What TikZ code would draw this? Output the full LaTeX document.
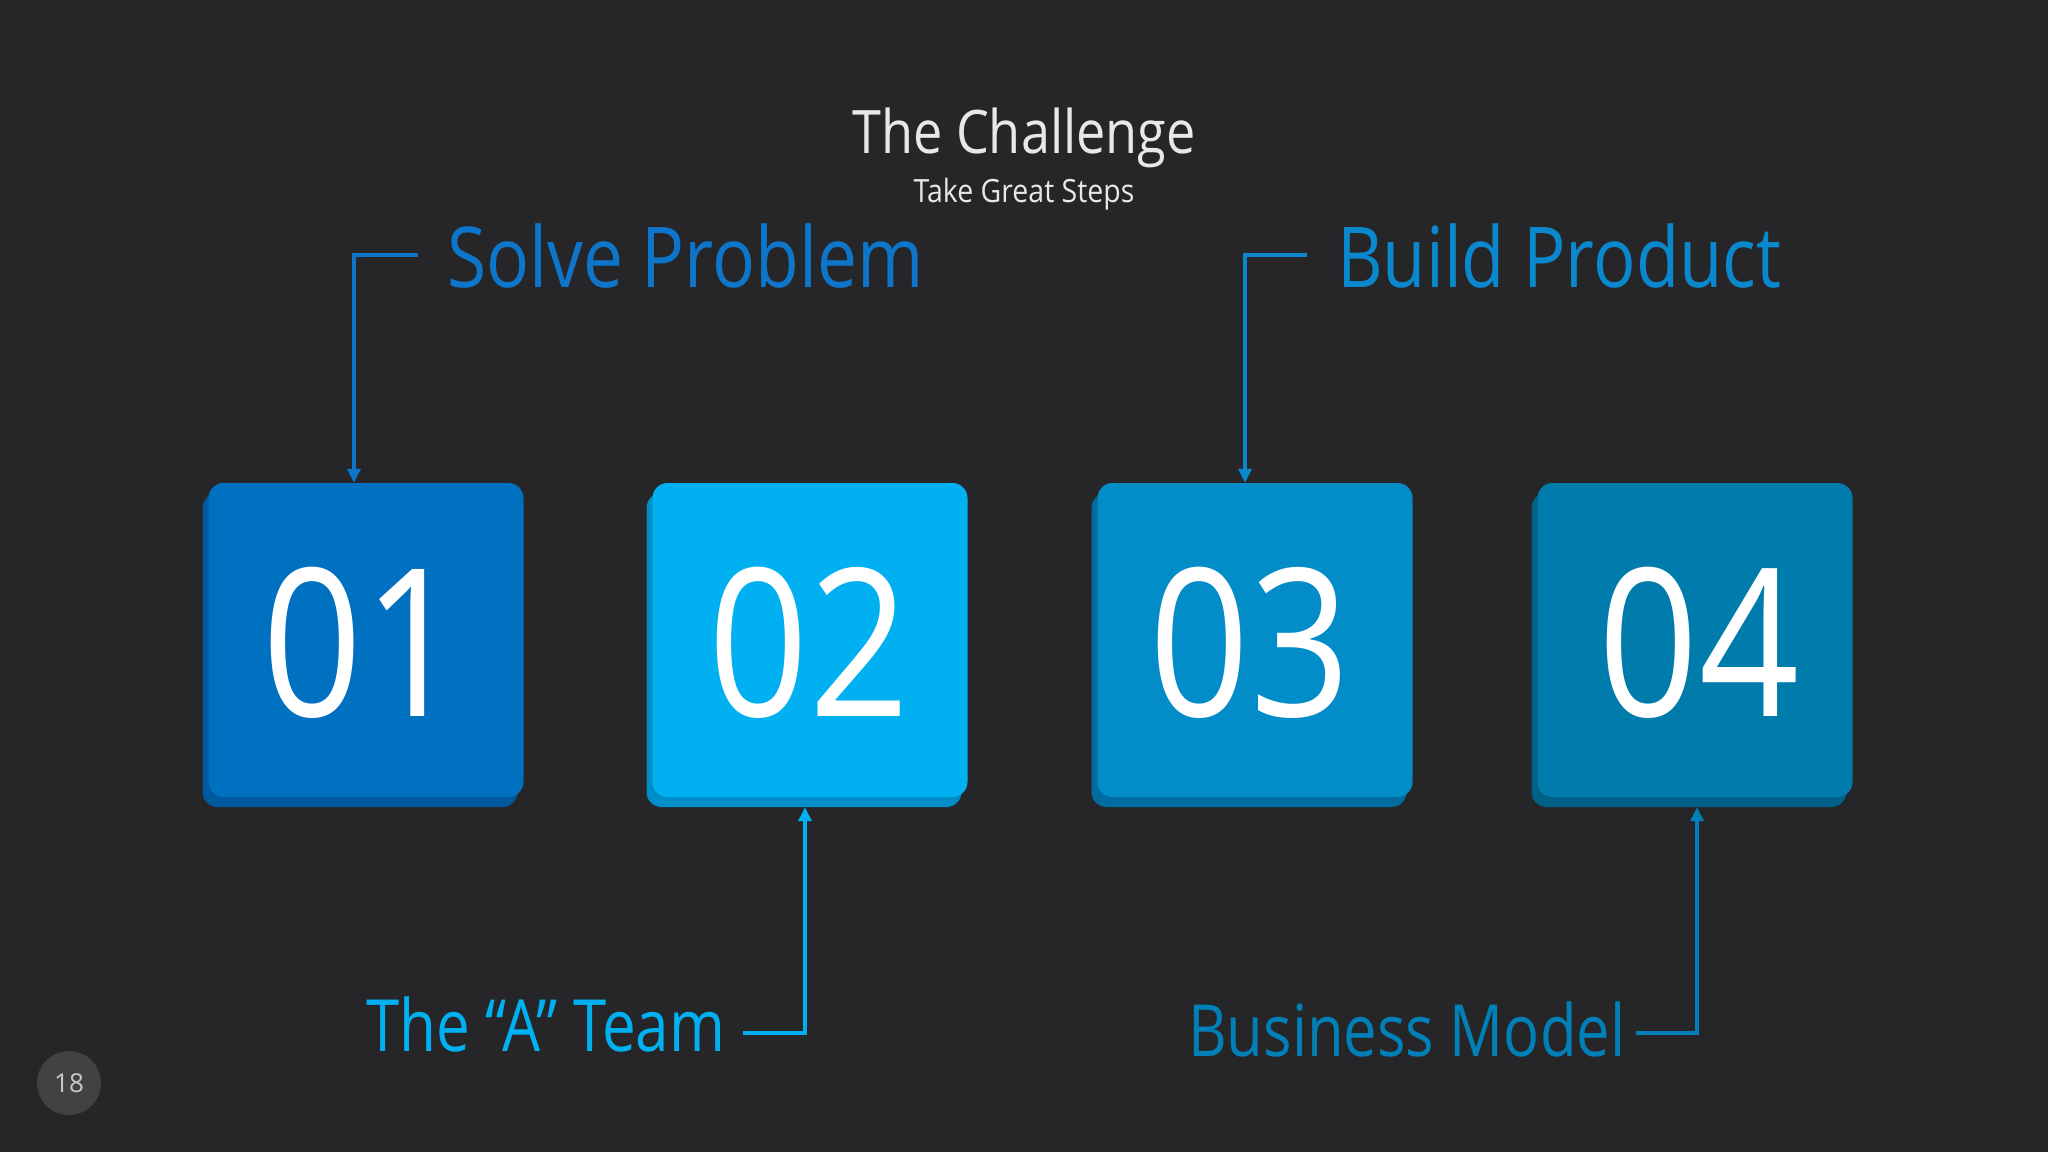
\documentclass[tikz,border=0pt]{standalone}
\usepackage{fontspec}
\usepackage{graphicx}
\setmainfont{Open Sans}
\usetikzlibrary{arrows.meta,calc}
\definecolor{bg}{RGB}{38,38,40}
\definecolor{c1}{RGB}{0,112,192}
\definecolor{s1}{RGB}{0,88,158}
\definecolor{c2}{RGB}{0,176,240}
\definecolor{s2}{RGB}{0,142,200}
\definecolor{c3}{RGB}{2,140,200}
\definecolor{s3}{RGB}{0,108,160}
\definecolor{c4}{RGB}{0,124,172}
\definecolor{s4}{RGB}{0,96,136}
\definecolor{t1}{RGB}{14,118,202}
\definecolor{t2}{RGB}{0,176,240}
\definecolor{t3}{RGB}{10,136,206}
\definecolor{t4}{RGB}{0,128,182}
\definecolor{titlec}{RGB}{232,232,232}
\definecolor{pagec}{RGB}{66,66,66}
\definecolor{pagetxt}{RGB}{200,200,200}
\newcommand{\squeeze}[2]{\scalebox{#1}[1]{#2}}
\begin{document}
\begin{tikzpicture}[x=1pt,y=-1pt,
  face/.style={rounded corners=15pt, minimum width=315pt, minimum height=314pt, inner sep=0pt, text=white, font=\fontsize{206}{206}\selectfont},
  shadowbox/.style={rounded corners=15pt, minimum width=315pt, minimum height=314pt, inner sep=0pt},
  digits/.style={inner sep=0pt, text=white, font=\fontsize{206}{206}\selectfont},
  lab/.style={inner sep=0pt, anchor=base west},
  bigfont/.style={font=\fontsize{84}{84}\selectfont},
  midfont/.style={font=\fontsize{72}{72}\selectfont},
  conn/.style={line width=3.5pt, -{Triangle[width=13pt,length=14pt]}}]
\fill[bg] (0,0) rectangle (2048,1152);
\useasboundingbox (0,0) rectangle (2048,1152);
% title
\node[inner sep=0pt, anchor=base, text=titlec, font=\fontsize{60}{60}\selectfont] (title) at (1024,153) {\squeeze{0.87}{The Challenge}};
\node[inner sep=0pt, anchor=base, text=titlec, font=\fontsize{32}{32}\selectfont] (subtitle) at (1024,202) {\squeeze{0.89}{Take Great Steps}};
% shadows
\node[shadowbox, fill=s1] (sh1) at (360,650) {};
\node[shadowbox, fill=s2] (sh2) at (804,650) {};
\node[shadowbox, fill=s3] (sh3) at (1249,650) {};
\node[shadowbox, fill=s4] (sh4) at (1689,650) {};
% faces
\node[face, fill=c1] (b1) at (366,640) {};
\node[face, fill=c2] (b2) at (810,640) {};
\node[face, fill=c3] (b3) at (1255,640) {};
\node[face, fill=c4] (b4) at (1695,640) {};
\node[digits] (n1) at (363,643) {\squeeze{0.85}{01}};
\node[digits] (n2) at (809,643) {\squeeze{0.85}{02}};
\node[digits] (n3) at (1250,643) {\squeeze{0.85}{03}};
\node[digits] (n4) at (1699,643) {\squeeze{0.85}{04}};
% labels
\node[lab, bigfont, text=t1] (sp) at (447,287) {\squeeze{0.85}{Solve Problem}};
\node[lab, bigfont, text=t3] (bp) at (1337,287) {\squeeze{0.84}{Build Product}};
\node[lab, midfont, text=t2] (tm) at (366,1051) {\squeeze{0.835}{The “A” Team}};
\node[lab, midfont, text=t4] (bm) at (1188,1056) {\squeeze{0.83}{Business Model}};
% connectors
\draw[conn, t1] ($(sp.base west)+(-29,-32)$) -| ([xshift=-12pt]b1.north);
\draw[conn, t3] ($(bp.base west)+(-30,-32)$) -| ([xshift=-10pt]b3.north);
\draw[conn, t2] ($(tm.base east)+(18,-18)$) -| ([xshift=-5pt]sh2.south -| b2.south);
\draw[conn, t4] ($(bm.base east)+(10,-23)$) -| ([xshift=2pt]sh4.south -| b4.south);
% page number
\node[circle, fill=pagec, minimum size=64pt, inner sep=0pt, text=pagetxt, font=\fontsize{26}{26}\selectfont] (page) at (69,1083) {18};
\end{tikzpicture}
\end{document}
